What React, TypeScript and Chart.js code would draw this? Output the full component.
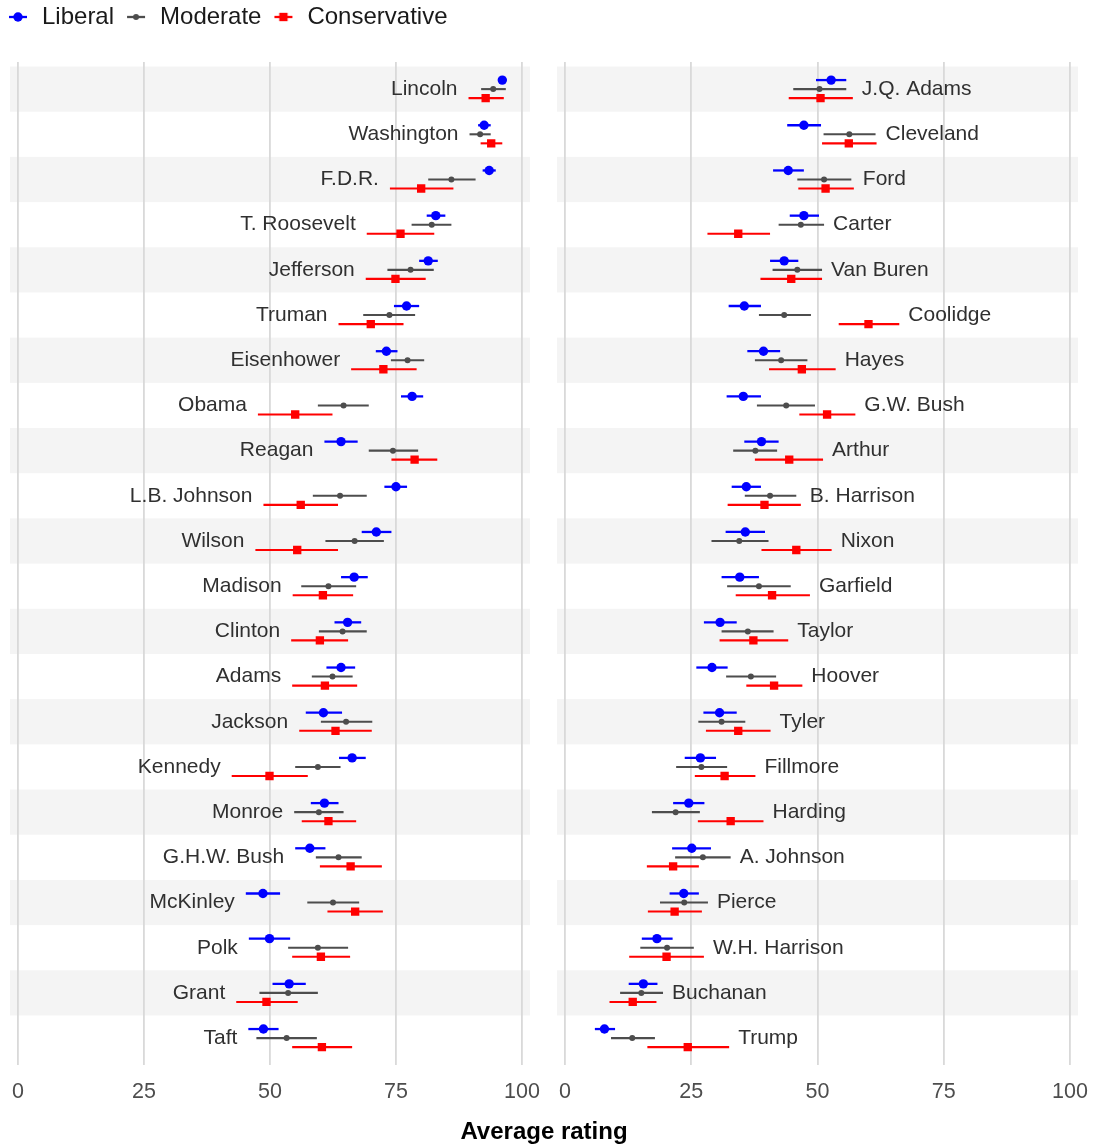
import React, { useEffect, useRef } from "react";
import { Chart, registerables } from "chart.js";

Chart.register(...registerables);

const FONT = '"Liberation Sans", Arial, Helvetica, sans-serif';

// ---------------- DATA ----------------
type Triple = [number, number, number]; // [estimate, low, high]

const seriesNames = ["Liberal", "Moderate", "Conservative"];
const xTicks = [0, 25, 50, 75, 100];

const leftNames = [
  "Lincoln", "Washington", "F.D.R.", "T. Roosevelt", "Jefferson", "Truman",
  "Eisenhower", "Obama", "Reagan", "L.B. Johnson", "Wilson", "Madison",
  "Clinton", "Adams", "Jackson", "Kennedy", "Monroe", "G.H.W. Bush",
  "McKinley", "Polk", "Grant", "Taft",
];

const leftLiberal: Triple[] = [
  [96.1, 95.3, 96.9], [92.5, 91.3, 93.8], [93.5, 92.2, 94.8], [82.9, 81.1, 84.8],
  [81.4, 79.6, 83.3], [77.1, 74.6, 79.6], [73.1, 71.0, 75.3], [78.2, 76.0, 80.4],
  [64.1, 60.8, 67.4], [75.0, 72.7, 77.2], [71.1, 68.2, 74.1], [66.7, 64.1, 69.4],
  [65.4, 62.8, 68.1], [64.1, 61.2, 66.9], [60.6, 57.1, 64.3], [66.3, 63.7, 69.0],
  [60.8, 58.1, 63.6], [57.9, 55.0, 61.0], [48.6, 45.2, 52.0], [49.9, 45.8, 54.0],
  [53.8, 50.5, 57.1], [48.7, 45.7, 51.7],
];

const leftModerate: Triple[] = [
  [94.3, 91.9, 96.8], [91.7, 89.6, 93.8], [86.0, 81.4, 90.8], [82.1, 78.1, 86.0],
  [77.9, 73.3, 82.5], [73.7, 68.5, 78.8], [77.3, 74.0, 80.6], [64.6, 59.5, 69.6],
  [74.4, 69.6, 79.4], [63.9, 58.5, 69.2], [66.8, 61.0, 72.6], [61.6, 56.2, 67.1],
  [64.4, 59.7, 69.2], [62.4, 58.3, 66.4], [65.1, 60.1, 70.3], [59.5, 55.0, 64.0],
  [59.7, 54.8, 64.6], [63.6, 59.1, 68.2], [62.5, 57.4, 67.7], [59.5, 53.6, 65.5],
  [53.6, 47.9, 59.5], [53.3, 47.3, 59.3],
];

const leftConservative: Triple[] = [
  [92.8, 89.4, 96.4], [93.9, 91.8, 96.1], [80.0, 73.8, 86.4], [75.9, 69.2, 82.6],
  [74.9, 69.0, 80.9], [70.0, 63.6, 76.5], [72.5, 66.1, 79.1], [55.0, 47.6, 62.4],
  [78.7, 74.1, 83.2], [56.1, 48.7, 63.5], [55.4, 47.1, 63.5], [60.5, 54.5, 66.5],
  [59.9, 54.2, 65.5], [60.9, 54.4, 67.3], [63.0, 55.8, 70.2], [49.9, 42.4, 57.5],
  [61.6, 56.3, 67.1], [66.0, 59.9, 72.2], [66.9, 61.4, 72.4], [60.1, 54.4, 65.9],
  [49.3, 43.3, 55.5], [60.3, 54.4, 66.3],
];

const rightNames = [
  "J.Q. Adams", "Cleveland", "Ford", "Carter", "Van Buren", "Coolidge",
  "Hayes", "G.W. Bush", "Arthur", "B. Harrison", "Nixon", "Garfield",
  "Taylor", "Hoover", "Tyler", "Fillmore", "Harding", "A. Johnson",
  "Pierce", "W.H. Harrison", "Buchanan", "Trump",
];

const rightLiberal: Triple[] = [
  [52.7, 49.7, 55.7], [47.3, 44.0, 50.7], [44.2, 41.2, 47.3], [47.3, 44.5, 50.3],
  [43.4, 40.6, 46.2], [35.5, 32.4, 38.8], [39.3, 36.1, 42.6], [35.3, 32.0, 38.8],
  [38.9, 35.5, 42.3], [35.9, 33.0, 38.8], [35.7, 31.8, 39.6], [34.6, 31.0, 38.4],
  [30.7, 27.5, 34.0], [29.1, 26.0, 32.2], [30.6, 27.4, 34.0], [26.8, 23.7, 29.9],
  [24.5, 21.4, 27.6], [25.1, 21.2, 28.9], [23.5, 20.7, 26.5], [18.2, 15.2, 21.3],
  [15.5, 12.6, 18.3], [7.8, 5.9, 9.9],
];

const rightModerate: Triple[] = [
  [50.4, 45.2, 55.7], [56.3, 51.2, 61.5], [51.3, 46.0, 56.7], [46.7, 42.3, 51.3],
  [46.0, 41.1, 50.9], [43.4, 38.4, 48.7], [42.8, 37.6, 48.0], [43.8, 38.0, 49.5],
  [37.7, 33.3, 42.0], [40.6, 35.6, 45.8], [34.5, 29.0, 40.3], [38.4, 32.1, 44.7],
  [36.2, 31.0, 41.3], [36.8, 31.9, 41.8], [31.0, 26.4, 35.7], [27.0, 22.0, 32.1],
  [21.9, 17.2, 26.7], [27.3, 21.8, 32.8], [23.6, 18.8, 28.3], [20.2, 14.9, 25.5],
  [15.1, 10.9, 19.4], [13.3, 9.1, 17.8],
];

const rightConservative: Triple[] = [
  [50.6, 44.3, 57.0], [56.2, 50.9, 61.7], [51.6, 46.2, 57.2], [34.3, 28.2, 40.6],
  [44.8, 38.7, 50.9], [60.1, 54.2, 66.2], [46.9, 40.4, 53.6], [51.9, 46.4, 57.5],
  [44.4, 37.6, 51.1], [39.5, 32.2, 46.7], [45.8, 38.9, 52.8], [41.0, 33.8, 48.5],
  [37.3, 30.6, 44.2], [41.4, 35.9, 47.0], [34.3, 27.9, 40.7], [31.6, 25.7, 37.7],
  [32.8, 26.3, 39.3], [21.4, 16.2, 26.5], [21.7, 16.4, 27.1], [20.1, 12.7, 27.5],
  [13.4, 8.8, 18.1], [24.3, 16.3, 32.5],
];

// ---------------- STYLE ----------------
const seriesColors = ["#0000ff", "#4d4d4d", "#ff0000"];
const seriesShapes = ["circle", "circle", "rect"];
const seriesRadius = [4.7, 3.0, 5.9];
const seriesOffsets = [-0.2, 0, 0.2];
const errorWidth = [2.3, 2.1, 2.1];
const BAND = "#f4f4f4";
const GRID = "#d9d9d9";

function makeKey(color: string, shape: string, r: number): HTMLCanvasElement {
  const c = document.createElement("canvas");
  c.width = 20;
  c.height = 12;
  const ctx = c.getContext("2d")!;
  ctx.strokeStyle = color;
  ctx.lineWidth = 2.3;
  ctx.beginPath();
  ctx.moveTo(1, 6);
  ctx.lineTo(19, 6);
  ctx.stroke();
  ctx.fillStyle = color;
  if (shape === "circle") {
    ctx.beginPath();
    ctx.arc(10, 6, r, 0, Math.PI * 2);
    ctx.fill();
  } else {
    const s = r * Math.SQRT2;
    ctx.fillRect(10 - s / 2, 6 - s / 2, s, s);
  }
  return c;
}

function buildDatasets(series: Triple[][]) {
  return series.map((rows, si) => ({
    label: seriesNames[si],
    data: rows.map((t, i) => ({ x: t[0], y: i + seriesOffsets[si], lo: t[1], hi: t[2] })),
    backgroundColor: seriesColors[si],
    borderColor: seriesColors[si],
    pointStyle: seriesShapes[si],
    pointRadius: seriesRadius[si],
    pointBorderWidth: 0,
    showLine: false,
  }));
}

function makePlugins(names: string[], series: Triple[][], side: "left" | "right") {
  const bands = {
    id: "bands",
    beforeDraw(chart: any) {
      const { ctx, chartArea: a, scales } = chart;
      const y = scales.y;
      ctx.save();
      ctx.fillStyle = BAND;
      for (let i = 0; i < names.length; i += 2) {
        const t = y.getPixelForValue(i - 0.5);
        const b = y.getPixelForValue(i + 0.5);
        ctx.fillRect(a.left, Math.min(t, b), a.right - a.left, Math.abs(b - t));
      }
      ctx.restore();
    },
  };
  const errorBars = {
    id: "errorBars",
    beforeDatasetsDraw(chart: any) {
      const { ctx, scales } = chart;
      const x = scales.x;
      chart.data.datasets.forEach((ds: any, di: number) => {
        const meta = chart.getDatasetMeta(di);
        ctx.save();
        ctx.strokeStyle = seriesColors[di];
        ctx.lineWidth = errorWidth[di];
        ctx.lineCap = "butt";
        ds.data.forEach((d: any, i: number) => {
          const el = meta.data[i];
          if (!el) return;
          ctx.beginPath();
          ctx.moveTo(x.getPixelForValue(d.lo), el.y);
          ctx.lineTo(x.getPixelForValue(d.hi), el.y);
          ctx.stroke();
        });
        ctx.restore();
      });
    },
  };
  const labels = {
    id: "rowLabels",
    afterDatasetsDraw(chart: any) {
      const { ctx, scales } = chart;
      const x = scales.x;
      const y = scales.y;
      ctx.save();
      ctx.font = `21px ${FONT}`;
      ctx.fillStyle = "#303030";
      ctx.textBaseline = "middle";
      names.forEach((name, i) => {
        const py = y.getPixelForValue(i);
        if (side === "left") {
          const lo = Math.min(...series.map((s) => s[i][1]));
          ctx.textAlign = "right";
          ctx.fillText(name, x.getPixelForValue(lo) - 11, py);
        } else {
          const hi = Math.max(...series.map((s) => s[i][2]));
          ctx.textAlign = "left";
          ctx.fillText(name, x.getPixelForValue(hi) + 9, py);
        }
      });
      ctx.restore();
    },
  };
  return [bands, errorBars, labels];
}

const legendMargin = {
  id: "legendMargin",
  beforeInit(chart: any) {
    if (!chart.legend) return;
    const orig = chart.legend.fit;
    chart.legend.fit = function () {
      orig.bind(chart.legend)();
      this.height += 23;
    };
  },
};

function xScale() {
  return {
    type: "linear" as const,
    min: -1.6,
    max: 101.6,
    afterBuildTicks: (ax: any) => {
      ax.ticks = xTicks.map((v) => ({ value: v }));
    },
    grid: { color: GRID, lineWidth: 1.8, drawTicks: true, tickLength: 12, tickColor: "rgba(0,0,0,0)" },
    border: { display: false },
    ticks: {
      padding: 2,
      color: "#4d4d4d",
      font: { family: FONT, size: 21.5 },
      maxRotation: 0,
      autoSkip: false,
    },
  };
}

export default function App() {
  const leftRef = useRef<HTMLCanvasElement>(null);
  const rightRef = useRef<HTMLCanvasElement>(null);

  useEffect(() => {
    const leftSeries = [leftLiberal, leftModerate, leftConservative];
    const rightSeries = [rightLiberal, rightModerate, rightConservative];
    const keys = seriesNames.map((_, i) => makeKey(seriesColors[i], seriesShapes[i], seriesRadius[i]));

    const left = new Chart(leftRef.current!, {
      type: "scatter",
      data: { datasets: buildDatasets(leftSeries) as any },
      options: {
        animation: false,
        responsive: false,
        events: [],
        layout: { padding: { left: 0, right: 22, top: 0, bottom: 39 } },
        scales: {
          x: xScale() as any,
          y: {
            type: "linear",
            min: -0.6,
            max: 21.6,
            reverse: true,
            display: true,
            grid: { display: false },
            border: { display: false },
            ticks: { display: false },
            afterFit: (s: any) => {
              s.width = 14;
            },
          },
        },
        plugins: {
          tooltip: { enabled: false },
          legend: {
            display: true,
            position: "top",
            align: "start",
            labels: {
              usePointStyle: true,
              pointStyleWidth: 24,
              padding: 10,
              color: "#1a1a1a",
              font: { family: FONT, size: 24 },
              generateLabels: (chart: any) => {
                const base = Chart.defaults.plugins.legend.labels.generateLabels(chart);
                return base.map((item: any, i: number) => ({ ...item, pointStyle: keys[i] }));
              },
            },
          },
        },
      },
      plugins: [...makePlugins(leftNames, leftSeries, "left"), legendMargin] as any,
    });

    const right = new Chart(rightRef.current!, {
      type: "scatter",
      data: { datasets: buildDatasets(rightSeries) as any },
      options: {
        animation: false,
        responsive: false,
        events: [],
        layout: { padding: { left: 7, right: 16, top: 62, bottom: 39 } },
        scales: {
          x: xScale() as any,
          y: {
            type: "linear",
            min: -0.6,
            max: 21.6,
            reverse: true,
            display: false,
          },
        },
        plugins: {
          tooltip: { enabled: false },
          legend: { display: false },
        },
      },
      plugins: makePlugins(rightNames, rightSeries, "right") as any,
    });

    return () => {
      left.destroy();
      right.destroy();
    };
  }, []);

  return (
    <div style={{ position: "absolute", left: 0, top: 0, width: 1094, height: 1146, overflow: "hidden", background: "#fff" }}>
      <canvas
        ref={leftRef}
        width={556}
        height={1151}
        style={{ position: "absolute", left: -4, top: -5, width: 556, height: 1151 }}
      />
      <canvas
        ref={rightRef}
        width={544}
        height={1146}
        style={{ position: "absolute", left: 550, top: 0, width: 544, height: 1146 }}
      />
      <div
        style={{
          position: "absolute",
          left: 0,
          top: 1119,
          width: 1088,
          textAlign: "center",
          fontFamily: FONT,
          fontWeight: "bold",
          fontSize: 24,
          lineHeight: "24px",
          color: "#000",
        }}
      >
        Average rating
      </div>
    </div>
  );
}
